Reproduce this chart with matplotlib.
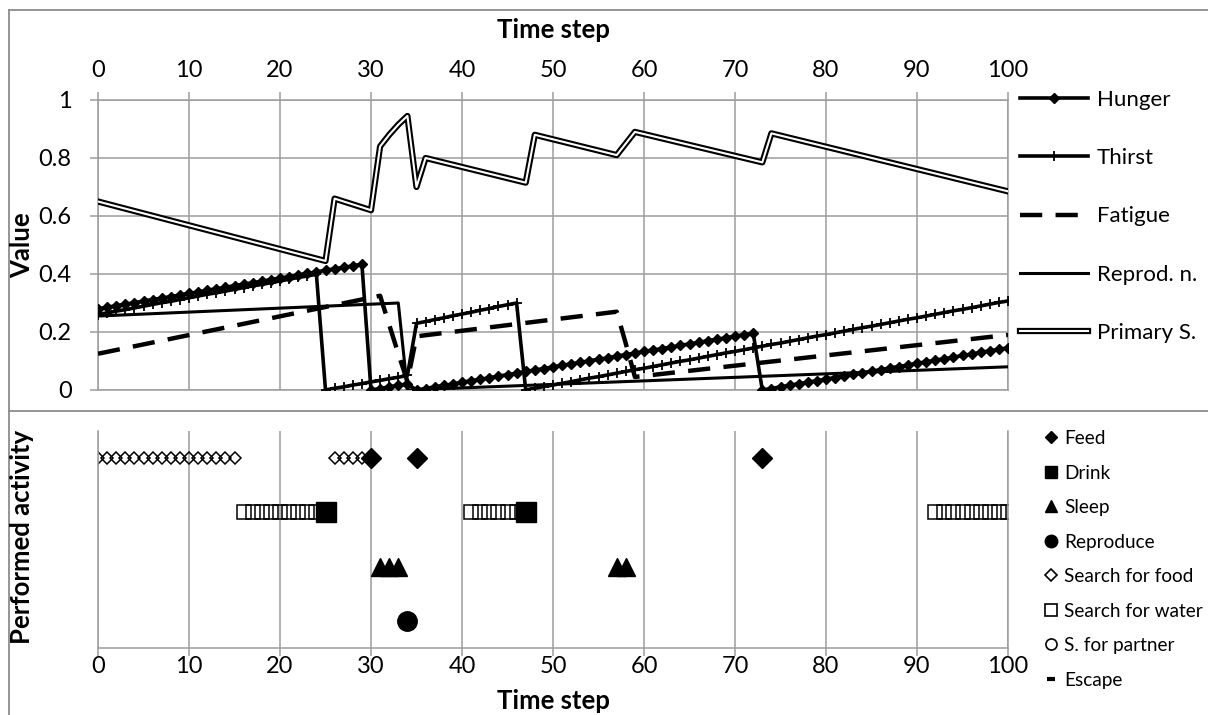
import matplotlib.pyplot as plt
import matplotlib.patheffects as pe
from matplotlib.lines import Line2D

plt.rcParams['font.family'] = ['Lato', 'DejaVu Sans']

grid_colour = '#9c9c9c'
frame_colour = '#8c8c8c'

# ---- data ----
time_steps = list(range(101))

hunger = [0.280, 0.285, 0.291, 0.296, 0.301, 0.307, 0.312, 0.317, 0.322, 0.328,
          0.333, 0.338, 0.344, 0.349, 0.354, 0.360, 0.365, 0.370, 0.375, 0.381,
          0.386, 0.391, 0.397, 0.402, 0.407, 0.413, 0.418, 0.423, 0.428, 0.434,
          0.000, 0.005, 0.011, 0.016, 0.021, 0.000, 0.005, 0.011, 0.016, 0.021,
          0.027, 0.032, 0.037, 0.042, 0.048, 0.053, 0.058, 0.064, 0.069, 0.074,
          0.080, 0.085, 0.090, 0.095, 0.101, 0.106, 0.111, 0.117, 0.122, 0.127,
          0.133, 0.138, 0.143, 0.148, 0.154, 0.159, 0.164, 0.170, 0.175, 0.180,
          0.186, 0.191, 0.196, 0.000, 0.005, 0.011, 0.016, 0.022, 0.027, 0.032,
          0.038, 0.043, 0.049, 0.054, 0.059, 0.065, 0.070, 0.076, 0.081, 0.086,
          0.092, 0.097, 0.103, 0.108, 0.113, 0.119, 0.124, 0.130, 0.135, 0.140,
          0.146]

thirst = [0.260, 0.266, 0.272, 0.277, 0.283, 0.289, 0.295, 0.301, 0.306, 0.312,
          0.318, 0.324, 0.330, 0.335, 0.341, 0.347, 0.353, 0.359, 0.364, 0.370,
          0.376, 0.382, 0.388, 0.393, 0.399, 0.000, 0.006, 0.011, 0.017, 0.022,
          0.028, 0.033, 0.039, 0.044, 0.050, 0.230, 0.236, 0.243, 0.249, 0.256,
          0.262, 0.268, 0.275, 0.281, 0.288, 0.294, 0.300, 0.000, 0.006, 0.012,
          0.017, 0.023, 0.029, 0.035, 0.041, 0.046, 0.052, 0.058, 0.064, 0.070,
          0.075, 0.081, 0.087, 0.093, 0.099, 0.104, 0.110, 0.116, 0.122, 0.128,
          0.133, 0.139, 0.145, 0.151, 0.157, 0.162, 0.168, 0.174, 0.180, 0.186,
          0.191, 0.197, 0.203, 0.209, 0.215, 0.220, 0.226, 0.232, 0.238, 0.244,
          0.249, 0.255, 0.261, 0.267, 0.273, 0.278, 0.284, 0.290, 0.296, 0.302,
          0.307]

# series without markers: values at the time steps where the slope changes
fatigue_t = [0, 31, 32, 33, 34, 35, 57, 58, 59, 100]
fatigue = [0.125, 0.325, 0.225, 0.125, 0.03, 0.185, 0.27, 0.16, 0.045, 0.19]

reprod_t = [0, 33, 34, 100]
reprod = [0.255, 0.30, 0.0, 0.08]

primary_t = [0, 25, 26, 30, 31, 32, 33, 34, 35, 36, 47, 48, 57, 59, 73, 74, 100]
primary = [0.65, 0.445, 0.66, 0.62, 0.84, 0.88, 0.915, 0.945, 0.70, 0.80,
           0.715, 0.88, 0.81, 0.89, 0.785, 0.885, 0.685]

x_ticks = [0, 10, 20, 30, 40, 50, 60, 70, 80, 90, 100]
value_ticks = [0, 0.2, 0.4, 0.6, 0.8, 1]
value_labels = ['0', '0.2', '0.4', '0.6', '0.8', '1']

# performed activities (time steps) and the row each is drawn on
feed_t = [30, 35, 73]
drink_t = [25, 47]
sleep_t = [31, 32, 33, 57, 58]
reproduce_t = [34]
search_food_t = [0, 1, 2, 3, 4, 5, 6, 7, 8, 9, 10, 11, 12, 13, 14, 15,
                 26, 27, 28, 29]
search_water_t = [16, 17, 18, 19, 20, 21, 22, 23, 24,
                  41, 42, 43, 44, 45, 46,
                  92, 93, 94, 95, 96, 97, 98, 99, 100]
partner_t = []
escape_t = []

food_row = 4
water_row = 3
sleep_row = 2
mate_row = 1


W, H = 1208, 715
fig = plt.figure(figsize=(W / 100, H / 100), dpi=100)

ax = fig.add_axes([98 / W, 1 - 390 / H, 910 / W, 290 / H])
ax2 = fig.add_axes([98 / W, 1 - 648 / H, 910 / W, 217 / H])

# ---- top: need values ----
ax.plot(time_steps, hunger, color='black', lw=2.6, marker='D', ms=5.6,
        label='Hunger', zorder=5)
ax.plot(time_steps, thirst, color='black', lw=2.6, marker='+', ms=7, mew=1.3,
        label='Thirst', zorder=4)
ax.plot(fatigue_t, fatigue, color='black', lw=3.2, dashes=(5, 3),
        label='Fatigue', zorder=3)
ax.plot(reprod_t, reprod, color='black', lw=2.2, label='Reprod. n.', zorder=3)
ax.plot(primary_t, primary, color='white', lw=1.5, label='Primary S.', zorder=3,
        path_effects=[pe.Stroke(linewidth=4.5, foreground='black'), pe.Normal()])

ax.set_xlim(0, 100)
ax.set_ylim(0, 1)
ax.xaxis.tick_top()
ax.set_xticks(x_ticks)
ax.set_yticks(value_ticks)
ax.set_yticklabels(value_labels)
ax.tick_params(axis='both', direction='out', length=6, width=1.1,
               color=grid_colour, labelsize=17)
ax.tick_params(axis='x', pad=8)
ax.tick_params(axis='y', pad=13)
ax.grid(True, color=grid_colour, lw=1.1)
ax.set_axisbelow(True)
for s in ax.spines.values():
    s.set_color(grid_colour)
    s.set_linewidth(1.1)

ax.legend(loc='upper left', bbox_to_anchor=(1020 / W, 1 - 90 / H),
          bbox_transform=fig.transFigure, frameon=False, fontsize=16,
          labelspacing=1.72, handlelength=3.06, handletextpad=0.4,
          borderpad=0, borderaxespad=0)

# ---- bottom: performed activity ----
ax2.plot(search_food_t, [food_row] * len(search_food_t), ls='none', marker='D',
         ms=6.5, mfc='none', mec='black', mew=1.1)
ax2.plot(search_water_t, [water_row] * len(search_water_t), ls='none', marker='s',
         ms=10, mfc='none', mec='black', mew=1.1)
ax2.plot(partner_t, [mate_row] * len(partner_t), ls='none', marker='o',
         mfc='none', mec='black')
ax2.plot(escape_t, [mate_row] * len(escape_t), ls='none', marker='_',
         color='black')
ax2.plot(feed_t, [food_row] * len(feed_t), ls='none', marker='D', ms=10,
         color='black')
ax2.plot(drink_t, [water_row] * len(drink_t), ls='none', marker='s', ms=14,
         color='black')
ax2.plot(sleep_t, [sleep_row] * len(sleep_t), ls='none', marker='^', ms=13,
         color='black')
ax2.plot(reproduce_t, [mate_row] * len(reproduce_t), ls='none', marker='o',
         ms=14, color='black')

ax2.set_xlim(0, 100)
ax2.set_ylim(0.5, 4.5)
ax2.set_xticks(x_ticks)
ax2.set_yticks([])
ax2.tick_params(axis='x', direction='out', length=6, width=1.1,
                color=grid_colour, labelsize=17, pad=0)
ax2.grid(axis='x', color=grid_colour, lw=1.1)
ax2.set_axisbelow(True)
ax2.spines['top'].set_visible(False)
for s in ['left', 'right', 'bottom']:
    ax2.spines[s].set_color(grid_colour)
    ax2.spines[s].set_linewidth(1.1)

handles = [
    Line2D([], [], ls='none', marker='D', ms=6, color='black'),
    Line2D([], [], ls='none', marker='s', ms=8, color='black'),
    Line2D([], [], ls='none', marker='^', ms=9, color='black'),
    Line2D([], [], ls='none', marker='o', ms=9, color='black'),
    Line2D([], [], ls='none', marker='D', ms=6, mfc='none', mec='black', mew=1.2),
    Line2D([], [], ls='none', marker='s', ms=8, mfc='none', mec='black', mew=1.2),
    Line2D([], [], ls='none', marker='o', ms=8, mfc='none', mec='black', mew=1.2),
    Line2D([], [], ls='none', marker='_', ms=6, mew=3, color='black'),
]
names = ['Feed', 'Drink', 'Sleep', 'Reproduce', 'Search for food',
         'Search for water', 'S. for partner', 'Escape']
fig.legend(handles, names, loc='upper left', bbox_to_anchor=(1043 / W, 1 - 430 / H),
           frameon=False, fontsize=13.7, labelspacing=0.92, handlelength=0.8,
           handletextpad=0.3, borderpad=0, borderaxespad=0)

# ---- axis titles ----
fig.text(553 / W, 1 - 30 / H, 'Time step', ha='center', va='center',
         fontsize=18.5, fontweight='bold')
fig.text(553 / W, 1 - 701 / H, 'Time step', ha='center', va='center',
         fontsize=18.5, fontweight='bold')
fig.text(22 / W, 1 - 245 / H, 'Value', ha='center', va='center', rotation=90,
         fontsize=18.5, fontweight='bold')
fig.text(22 / W, 1 - 537 / H, 'Performed activity', ha='center', va='center',
         rotation=90, fontsize=18.5, fontweight='bold')

# outer frame of the two panels
for xs, ys in [([9, 9], [10, H]), ([9, W], [10, 10]), ([9, W], [411, 411])]:
    fig.add_artist(Line2D([x / W for x in xs], [1 - y / H for y in ys],
                          color=frame_colour, lw=1.3))

fig.savefig('out.png', dpi=100)
